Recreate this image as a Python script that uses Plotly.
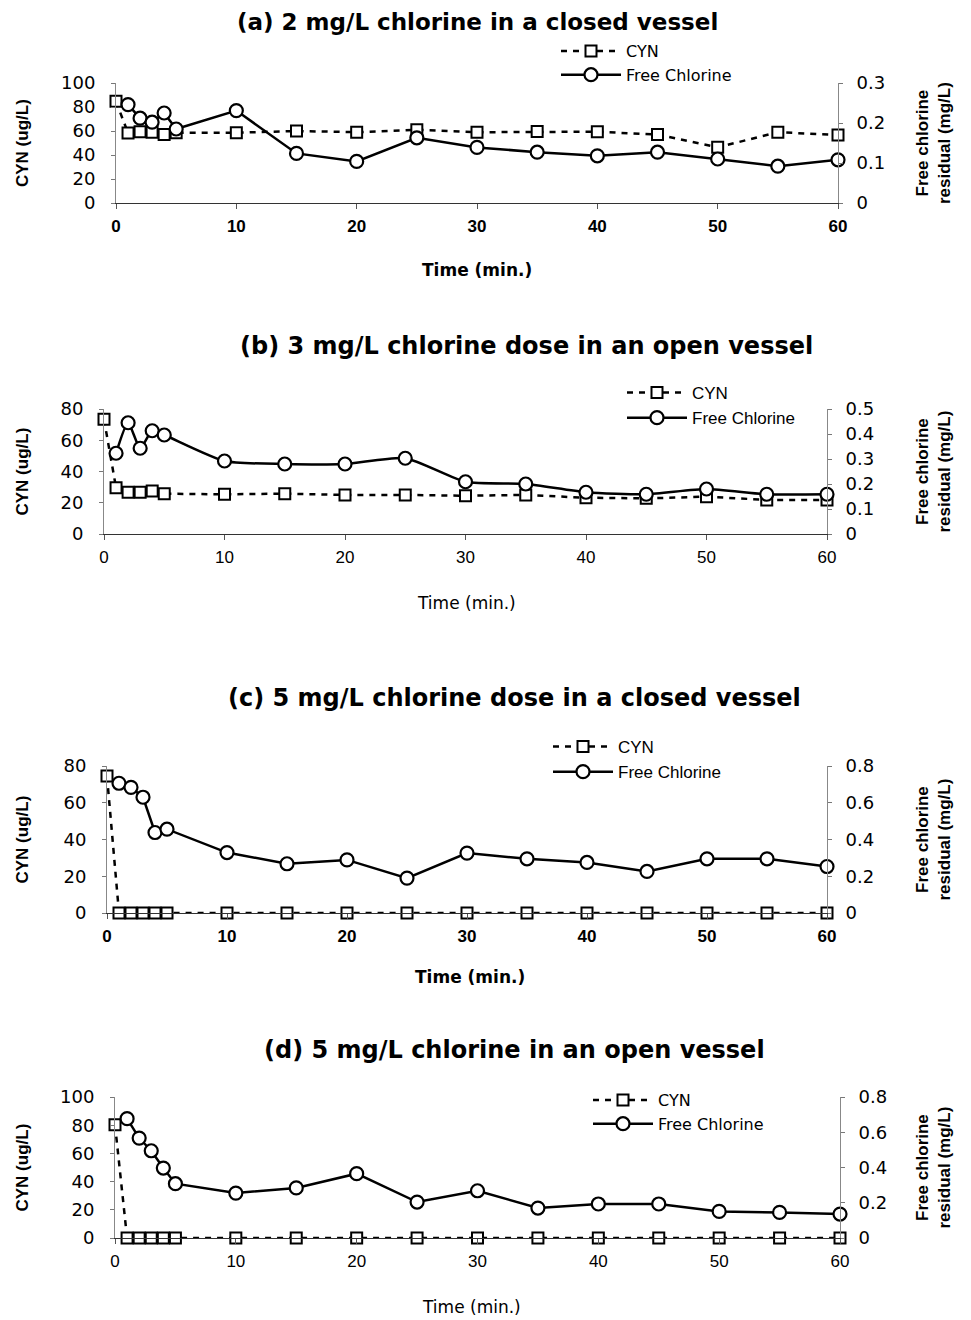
import plotly.graph_objects as go

# page offset (browser body margin) -> figure occupies 8..971 x 8..1320
OFF = 8
W, H = 971 - OFF, 1320 - OFF

time_cyn = [0, 1, 2, 3, 4, 5, 10, 15, 20, 25, 30, 35, 40, 45, 50, 55, 60]
time_cl = [1, 2, 3, 4, 5, 10, 15, 20, 25, 30, 35, 40, 45, 50, 55, 60]

# (a) 2 mg/L closed
cyn_a = [84.7, 58.3, 59.4, 59, 57, 58.6, 58.6, 60, 59, 61, 59, 59.5, 59.4, 57, 46.4, 59, 56.7]
cl_a = [0.246, 0.212, 0.202, 0.225, 0.185, 0.231, 0.124, 0.104, 0.163, 0.139, 0.127, 0.118, 0.127, 0.110, 0.092, 0.108]
# (b) 3 mg/L open
cyn_b = [73.4, 29.6, 26.7, 26.7, 27.5, 25.8, 25.4, 25.8, 25, 25, 24.5, 25, 23.2, 22.8, 23.9, 21.8, 21.8]
cl_b = [0.323, 0.445, 0.343, 0.413, 0.396, 0.292, 0.280, 0.280, 0.303, 0.209, 0.200, 0.167, 0.159, 0.180, 0.159, 0.159]
# (c) 5 mg/L closed
cyn_c = [74.5, 0, 0, 0, 0, 0, 0, 0, 0, 0, 0, 0, 0, 0, 0, 0, 0]
cl_c = [0.706, 0.684, 0.630, 0.438, 0.456, 0.329, 0.268, 0.289, 0.190, 0.326, 0.295, 0.275, 0.226, 0.295, 0.295, 0.253]
# (d) 5 mg/L open
cyn_d = [80.4, 0, 0, 0, 0, 0, 0, 0, 0, 0, 0, 0, 0, 0, 0, 0, 0]
cl_d = [0.677, 0.567, 0.495, 0.397, 0.308, 0.255, 0.284, 0.365, 0.204, 0.268, 0.170, 0.193, 0.193, 0.151, 0.145, 0.136]

titles = ["(a) 2 mg/L chlorine in a closed vessel",
          "(b) 3 mg/L chlorine dose in an open vessel",
          "(c) 5 mg/L chlorine dose in a closed vessel",
          "(d) 5 mg/L chlorine in an open vessel"]
left_max = [100, 80, 80, 100]
left_dtick = [20, 20, 20, 20]
right_max = [0.3, 0.5, 0.8, 0.8]
right_dtick = [0.1, 0.1, 0.2, 0.2]
x_ticks = [0, 10, 20, 30, 40, 50, 60]

cyn_all = [cyn_a, cyn_b, cyn_c, cyn_d]
cl_all = [cl_a, cl_b, cl_c, cl_d]
shapes_cl = ["linear", "spline", "linear", "linear"]

# layout geometry (page pixels)
plot_px = [  # left, right, top, bottom
    (116, 838, 83, 203),
    (104, 827, 409, 534),
    (107, 827, 766, 913),
    (115, 840, 1097, 1238),
]
title_pos = [(477, 22), (526, 346), (515, 698), (515, 1050)]
title_size = [23, 24, 24, 24]
xtitle_pos = [(477, 270), (466, 603), (470, 977), (471, 1307)]
xtitle_bold = [True, False, True, False]
legend_pos = [(556, 34), (622, 375), (548, 729), (588, 1083)]
legend_font = [("DejaVu Sans, sans-serif", 16), ("Liberation Sans, Arial", 17),
               ("Liberation Sans, Arial", 17), ("DejaVu Sans, sans-serif", 16)]
ylab_x = 22
ylab2_x = [933, 933, 933, 933]

FONT = "Liberation Sans, Arial, sans-serif"
WIDE = "DejaVu Sans, sans-serif"

fig = go.Figure()
layout = dict(width=W, height=H, margin=dict(l=0, r=0, t=0, b=0, autoexpand=False),
              paper_bgcolor="white", plot_bgcolor="white",
              font=dict(family=FONT, color="black", size=16))
annotations = []

def fx(px):
    return (px - OFF) / W

def fy(py):
    return 1 - (py - OFF) / H

for i in range(4):
    n = i + 1
    xs = "" if n == 1 else str(n)
    yl = 2 * i + 1
    yr = 2 * i + 2
    yls = "" if yl == 1 else str(yl)
    yrs = str(yr)
    lg = "legend" if n == 1 else "legend%d" % n
    L, R, T, B = plot_px[i]

    fig.add_trace(go.Scatter(
        x=time_cyn, y=cyn_all[i], name="CYN", mode="lines+markers",
        xaxis="x" + xs, yaxis="y" + yls, legend=lg, cliponaxis=False,
        line=dict(color="black", width=2.5, dash="6px,6px"),
        marker=dict(symbol="square", size=11, color="white",
                    line=dict(color="black", width=2))))
    fig.add_trace(go.Scatter(
        x=time_cl, y=cl_all[i], name="Free Chlorine", mode="lines+markers",
        xaxis="x" + xs, yaxis="y" + yrs, legend=lg, cliponaxis=False,
        line=dict(color="black", width=2.5, shape=shapes_cl[i], smoothing=0.6),
        marker=dict(symbol="circle", size=13, color="white",
                    line=dict(color="black", width=2.2))))

    tickbold = (i == 0 or i == 2)
    tf = dict(family=FONT, size=17, color="black")
    layout["xaxis" + xs] = dict(
        domain=[fx(L), fx(R)], anchor="y" + yls, range=[0, 60],
        tickvals=x_ticks, ticktext=[("<b>%d</b>" % v) if tickbold else str(v) for v in x_ticks],
        ticks="outside", ticklen=5, tickcolor="#555", showline=True,
        linecolor="#333", linewidth=1.2, showgrid=False, zeroline=False,
        tickfont=tf, ticklabelstandoff=2)
    lt = list(range(0, left_max[i] + 1, left_dtick[i]))
    layout["yaxis" + yls] = dict(
        domain=[fy(B), fy(T)], anchor="x" + xs, range=[0, left_max[i]],
        tickvals=lt, ticktext=[str(v) for v in lt],
        ticks="outside", ticklen=4, tickcolor="#777", showline=True,
        linecolor="#888", linewidth=1, showgrid=False, zeroline=False,
        tickfont=dict(family=WIDE, size=18, color="black"),
        ticklabelstandoff=12)
    nr = int(round(right_max[i] / right_dtick[i]))
    rt = [round(k * right_dtick[i], 1) for k in range(nr + 1)]
    layout["yaxis" + yrs] = dict(
        overlaying="y" + yls, side="right", anchor="x" + xs,
        range=[0, right_max[i]], tickvals=rt,
        ticktext=["0" if v == 0 else ("%g" % v) for v in rt],
        ticks="outside", ticklen=4, tickcolor="#777", showline=True,
        linecolor="#888", linewidth=1, showgrid=False, zeroline=False,
        tickfont=dict(family=WIDE, size=18, color="black"),
        ticklabelstandoff=10)

    lx, ly = legend_pos[i]
    lf, ls = legend_font[i]
    layout[lg] = dict(x=fx(lx), y=fy(ly), xanchor="left", yanchor="top",
                      bgcolor="rgba(0,0,0,0)", borderwidth=0,
                      font=dict(family=lf, size=ls, color="black"),
                      itemwidth=60, tracegroupgap=0)

    tx, ty = title_pos[i]
    annotations.append(dict(text="<b>" + titles[i] + "</b>", x=fx(tx), y=fy(ty),
                            xref="paper", yref="paper", showarrow=False,
                            xanchor="center", yanchor="middle",
                            font=dict(family=WIDE, size=title_size[i], color="black")))
    xx, xy = xtitle_pos[i]
    txt = "Time (min.)"
    annotations.append(dict(text=("<b>%s</b>" % txt) if xtitle_bold[i] else txt,
                            x=fx(xx), y=fy(xy), xref="paper", yref="paper",
                            showarrow=False, xanchor="center", yanchor="middle",
                            font=dict(family=WIDE, size=17, color="black")))
    cy = (T + B) / 2
    annotations.append(dict(text="<b>CYN (ug/L)</b>", x=fx(ylab_x), y=fy(cy),
                            xref="paper", yref="paper", showarrow=False,
                            textangle=-90, xanchor="center", yanchor="middle",
                            font=dict(family=FONT, size=17, color="black")))
    annotations.append(dict(text="<b>Free chlorine<br>residual (mg/L)</b>",
                            x=fx(ylab2_x[i]), y=fy(cy), xref="paper", yref="paper",
                            showarrow=False, textangle=-90, xanchor="center",
                            yanchor="middle",
                            font=dict(family=FONT, size=17, color="black")))

layout["annotations"] = annotations
fig.update_layout(**layout)
fig.write_html("out.html")
